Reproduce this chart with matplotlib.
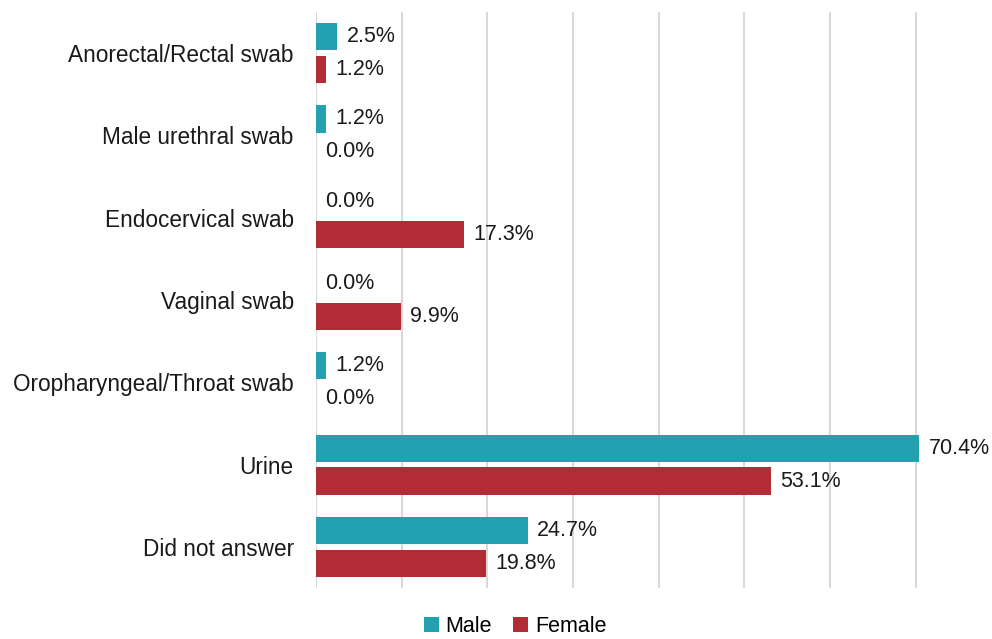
import matplotlib.pyplot as plt
import numpy as np

categories = ['Anorectal/Rectal swab', 'Male urethral swab', 'Endocervical swab',
              'Vaginal swab', 'Oropharyngeal/Throat swab', 'Urine', 'Did not answer']
male = [2.5, 1.2, 0.0, 0.0, 1.2, 70.4, 24.7]
female = [1.2, 0.0, 17.3, 9.9, 0.0, 53.1, 19.8]

male_color = '#23A1B0'
female_color = '#B22C35'

plt.rcParams['font.family'] = ['Liberation Sans', 'DejaVu Sans']

fig = plt.figure(figsize=(9.92, 6.39), dpi=100)
ax = fig.add_axes([316 / 992, 1 - 588 / 639, 1 - 316 / 992, 576 / 639])

y = np.arange(len(categories))
h = 0.33
off = 0.2
ax.barh(y - off, male, height=h, color=male_color, label='Male')
ax.barh(y + off, female, height=h, color=female_color, label='Female')

for yi, v in zip(y, male):
    ax.text(v + 1.1, yi - off, '{:.1f}%'.format(v), va='center', ha='left', fontsize=15.5, color='#1a1a1a')
for yi, v in zip(y, female):
    ax.text(v + 1.1, yi + off, '{:.1f}%'.format(v), va='center', ha='left', fontsize=15.5, color='#1a1a1a')

ax.set_ylim(len(categories) - 0.5, -0.5)
ax.set_xlim(0, 78.9)
ax.set_xticks(np.arange(0, 80, 10))
ax.set_xticklabels([])
ax.tick_params(axis='x', length=0)
ax.set_yticks(y)
ax.set_yticklabels(categories, fontsize=16.3, color='#1a1a1a')
ax.tick_params(axis='y', length=0, pad=16)
ax.grid(axis='x', color='#D9D9D9', linewidth=1.5)
ax.set_axisbelow(True)
for s in ax.spines.values():
    s.set_visible(False)

fig.legend(loc='lower center', bbox_to_anchor=(515 / 992, -0.027), ncol=2, frameon=False,
           fontsize=15.5, handlelength=0.7, handleheight=0.7, handletextpad=0.3, columnspacing=1.0)

fig.savefig('out.png', dpi=100)
